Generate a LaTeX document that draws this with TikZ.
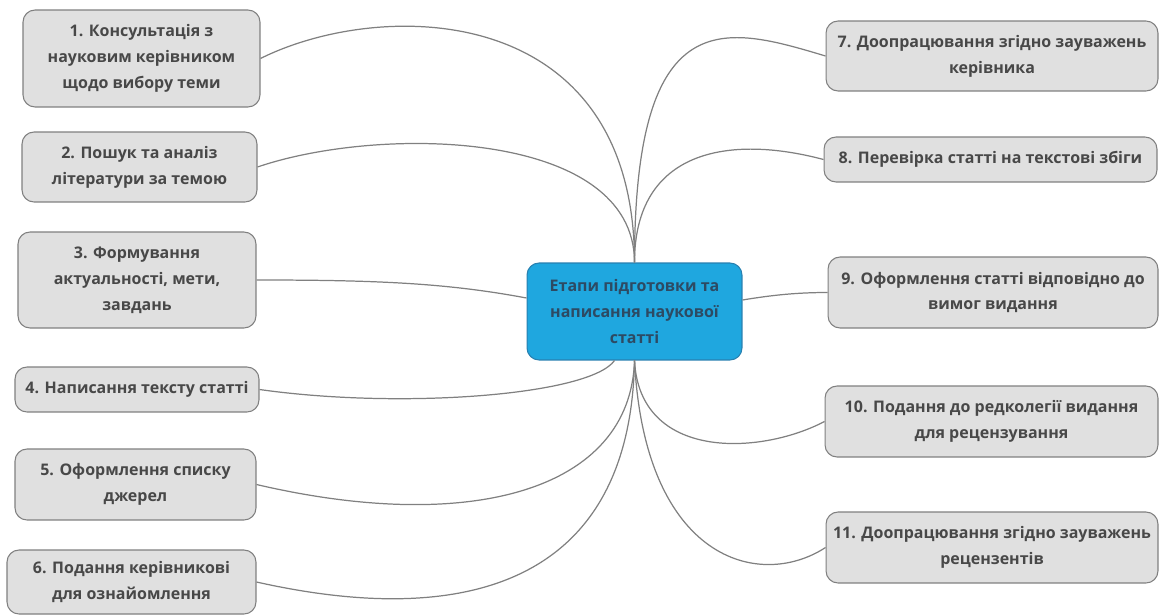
\documentclass[tikz,border=0pt]{standalone}
\usepackage{fontspec}
\setmainfont{Open Sans}
\usetikzlibrary{shapes,positioning}
\definecolor{ashgray}{RGB}{224, 224, 224}
\definecolor{pewter}{RGB}{128, 128, 128}
\definecolor{graphite}{RGB}{72, 72, 72}
\definecolor{cerulean}{RGB}{31, 167, 223}
\definecolor{harbor}{RGB}{40, 128, 176}
\definecolor{slate}{RGB}{45, 74, 99}
\tikzset{stagebox/.style={draw=pewter,fill=ashgray,rounded corners=0.24cm,line width=0.6pt,inner sep=0pt,align=center,text=graphite,font=\fontsize{9.1}{14.7}\selectfont\bfseries}}
\tikzset{topicbox/.style={draw=harbor,fill=cerulean,rounded corners=0.24cm,line width=0.6pt,inner sep=0pt,align=center,text=slate,font=\fontsize{9.1}{14.7}\selectfont\bfseries}}
\tikzset{branch/.style={draw=pewter,line width=0.7pt}}

\begin{document}
\begin{tikzpicture}[x=0.02cm,y=-0.02cm]
	\useasboundingbox (0,0) rectangle (1159,615);
	\node[topicbox,minimum width=4.3cm,minimum height=1.94cm] (topic) at (634.5,311.5) {Етапи підготовки та\\написання наукової\\статті};
	% left column
	\node[stagebox,minimum width=4.74cm,minimum height=1.94cm] (consult) at (141.5,58.5) {1. Консультація з\\науковим керівником\\щодо вибору теми};
	\node[stagebox,minimum width=4.7cm,minimum height=1.4cm] (search) at (139.5,167) {2. Пошук та аналіз\\літератури за темою};
	\node[stagebox,minimum width=4.76cm,minimum height=1.92cm] (aims) at (137,280) {3. Формування\\актуальності, мети,\\завдань};
	\node[stagebox,minimum width=4.88cm,minimum height=0.9cm] (writing) at (137,389.5) {4. Написання тексту статті};
	\node[stagebox,minimum width=4.82cm,minimum height=1.42cm] (sources) at (135.5,484.5) {5. Оформлення списку\\джерел};
	\node[stagebox,minimum width=4.98cm,minimum height=1.28cm] (submit) at (131.5,582) {6. Подання керівникові\\для ознайомлення};
	% right column
	\node[stagebox,minimum width=6.64cm,minimum height=1.4cm] (revise) at (992,56) {7. Доопрацювання згідно зауважень\\керівника};
	\node[stagebox,minimum width=6.66cm,minimum height=0.9cm] (check) at (990.5,159.5) {8. Перевірка статті на текстові збіги};
	\node[stagebox,minimum width=6.6cm,minimum height=1.42cm] (format) at (993,292.5) {9. Оформлення статті відповідно до\\вимог видання};
	\node[stagebox,minimum width=6.66cm,minimum height=1.42cm] (board) at (991.5,421.5) {10. Подання до редколегії видання\\для рецензування};
	\node[stagebox,minimum width=6.64cm,minimum height=1.42cm] (final) at (992,547.5) {11. Доопрацювання згідно зауважень\\рецензентів};
	% branches
	\draw[branch] (topic.north) .. controls +(0,-263) and +(120,-60) .. (consult.east);
	\draw[branch] (topic.north) .. controls +(0,-133) and +(123,-42) .. (search.east);
	\draw[branch] ([yshift=0.27cm]topic.west) .. controls +(-80,-15) and +(120,0) .. (aims.east);
	\draw[branch] ([xshift=-0.4cm]topic.south) .. controls +(-25,35) and +(141,20) .. (writing.east);
	\draw[branch] (topic.south) .. controls +(-4,130) and +(214,50) .. (sources.east);
	\draw[branch] (topic.south) .. controls +(-4,220) and +(214,48) .. (submit.east);
	\draw[branch] (topic.north) .. controls +(0,-263) and +(-100,-30) .. (revise.west);
	\draw[branch] (topic.north) .. controls +(0,-113) and +(-94,-25) .. (check.west);
	\draw[branch] ([yshift=0.23cm]topic.east) .. controls +(30,-5) and +(-30,0) .. (format.west);
	\draw[branch] (topic.south) .. controls +(5,100) and +(-65,34) .. (board.west);
	\draw[branch] (topic.south) .. controls +(10,200) and +(-66,43) .. (final.west);
\end{tikzpicture}
\end{document}
